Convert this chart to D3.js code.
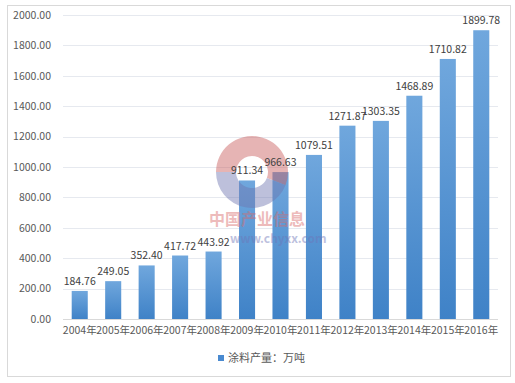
<!DOCTYPE html>
<html><head><meta charset="utf-8">
<script src="https://cdn.jsdelivr.net/npm/d3@7"></script>
<style>body{margin:0;background:#fff}svg{display:block}</style>
</head><body>
<script>
const categories = ["2004年","2005年","2006年","2007年","2008年","2009年","2010年","2011年","2012年","2013年","2014年","2015年","2016年"];
const values = [184.76,249.05,352.40,417.72,443.92,911.34,966.63,1079.51,1271.87,1303.35,1468.89,1710.82,1899.78];
const yTicks = [0,200,400,600,800,1000,1200,1400,1600,1800,2000];
const seriesName = "涂料产量：万吨";

const W=515,H=383;
const font = "'Noto Sans CJK SC','Noto Sans',sans-serif";
const svg = d3.select("body").append("svg").attr("width",W).attr("height",H);
svg.append("rect").attr("x",7.5).attr("y",5.5).attr("width",503).attr("height",371)
  .attr("fill","#fff").attr("stroke","#d9d9d9");

const x = d3.scaleBand().domain(categories).range([63,498]).paddingInner(0.52).paddingOuter(0.26);
const y = d3.scaleLinear().domain([0,2000]).range([319,15]);

const defs = svg.append("defs");
const g = defs.append("linearGradient").attr("id","bg").attr("x1",0).attr("y1",0).attr("x2",0).attr("y2",1);
g.append("stop").attr("offset","0%").attr("stop-color","#70a7dd");
g.append("stop").attr("offset","100%").attr("stop-color","#3f82c7");

// gridlines
svg.append("g").selectAll("line").data(yTicks).join("line")
  .attr("x1",63).attr("x2",498).attr("y1",d=>Math.round(y(d))+0.5).attr("y2",d=>Math.round(y(d))+0.5)
  .attr("stroke",d=>d===0?"#d9d9d9":"#e6e9ef");

const yAxis = svg.append("g").attr("transform","translate(55,0)")
  .call(d3.axisLeft(y).tickValues(yTicks).tickFormat(d=>d3.format(".2f")(d)).tickSize(0).tickPadding(4));
yAxis.select(".domain").remove();
yAxis.selectAll("text").attr("font-family",font).attr("font-size",10.5).attr("fill","#595959");

const xAxis = svg.append("g").attr("transform","translate(0,319)")
  .call(d3.axisBottom(x).tickSize(0).tickPadding(8));
xAxis.select(".domain").remove();
xAxis.selectAll("text").attr("font-family",font).attr("font-size",10.5).attr("fill","#595959");

svg.append("g").selectAll("rect").data(values).join("rect")
  .attr("x",(d,i)=>x(categories[i])).attr("width",x.bandwidth())
  .attr("y",d=>y(d)).attr("height",d=>y(0)-y(d)).attr("fill","url(#bg)");

// watermark (drawn over the bars, translucent)
const wm = svg.append("g").attr("opacity",0.45);
const arc = d3.arc().innerRadius(16).outerRadius(36);
wm.append("path").attr("transform","translate(252,172)")
  .attr("d",arc({startAngle:-Math.PI*0.5,endAngle:Math.PI*0.62})).attr("fill","#c95a5a");
wm.append("path").attr("transform","translate(252,172)")
  .attr("d",arc({startAngle:Math.PI*0.62,endAngle:Math.PI*1.5})).attr("fill","#6e76b0");
wm.append("text").attr("x",257).attr("y",225).attr("text-anchor","middle").attr("font-family",font)
  .attr("font-size",16).attr("font-weight","bold").attr("fill","#d96a6a").text("中国产业信息");
wm.append("text").attr("x",230).attr("y",243).attr("font-family",font)
  .attr("font-size",12).attr("font-weight","bold").attr("fill","#6e76b8").text("www.chyxx.com");

svg.append("g").selectAll("text").data(values).join("text")
  .attr("x",(d,i)=>x(categories[i])+x.bandwidth()/2).attr("y",d=>y(d)-6)
  .attr("text-anchor","middle").attr("font-family",font).attr("font-size",10.5).attr("fill","#404040")
  .text(d=>d3.format(".2f")(d));

// legend
const lg = svg.append("g");
lg.append("rect").attr("x",218).attr("y",355).attr("width",6).attr("height",6).attr("fill","#4a8ad0");
lg.append("text").attr("x",228).attr("y",362).attr("font-family",font).attr("font-size",11).attr("fill","#595959").text(seriesName);
</script>
</body></html>
